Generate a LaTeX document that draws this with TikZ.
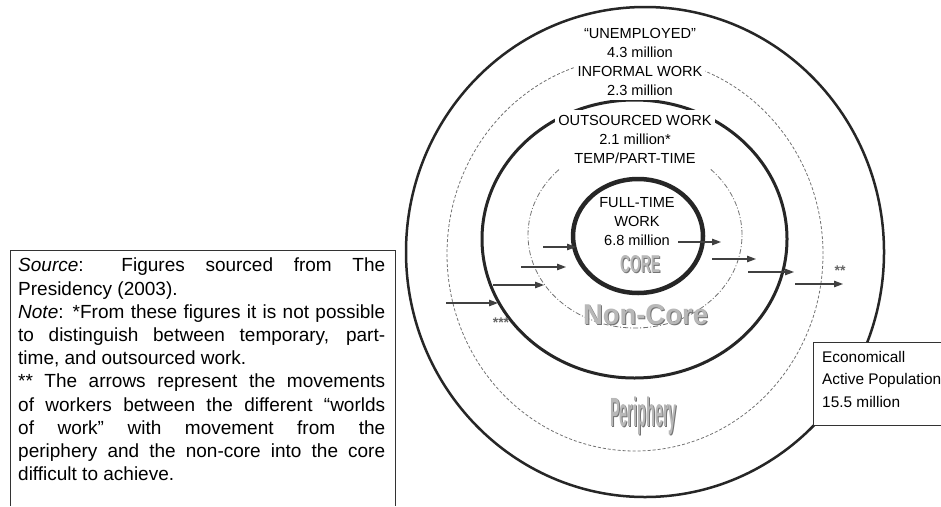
\documentclass[tikz,border=0pt]{standalone}
\usepackage{fontspec}
\setmainfont{Liberation Sans}
\usepackage{graphicx}
\usetikzlibrary{arrows.meta}
\begin{document}
\begin{tikzpicture}[x=1pt,y=-1pt,
  ring/.style={draw=black!85},
  dashring/.style={draw=black!55, line width=0.8pt, dash pattern=on 3pt off 2pt},
  dotring/.style={draw=black!55, line width=0.8pt, dash pattern=on 5pt off 2pt on 1pt off 2pt},
  flow/.style={draw=black!75, line width=1.2pt, -{Triangle[length=9pt,width=6.5pt]}},
  ringtext/.style={font=\fontsize{14.6}{19}\selectfont, align=center, text=black},
  whiteblock/.style={ringtext, fill=white, inner xsep=3pt, inner ysep=4pt},
  notetext/.style={font=\fontsize{19}{23.2}\selectfont, text width=367pt, align=justify, inner sep=0pt},
  boxtext/.style={font=\fontsize{15.4}{22.5}\selectfont, align=left, inner sep=0pt},
  boxline/.style={draw=black!80, line width=0.8pt},
  starmark/.style={font=\fontsize{14}{14}\selectfont\bfseries, text=black!60, inner sep=0pt},
  shadowlbl/.style={text=black!55, inner sep=0pt},
  facelbl/.style={text=black!28, inner sep=0pt}
]
\clip (0,0) rectangle (941,506);
\fill[white] (0,0) rectangle (941,506);

% rings
\draw[ring, line width=2.5pt] (645,252) ellipse [x radius=239pt, y radius=245pt];
\draw[dashring] (635,254) ellipse [x radius=188pt, y radius=197pt];
\draw[ring, line width=3pt] (634.5,239) ellipse [x radius=152.5pt, y radius=139pt];
\draw[dotring] (635,235) ellipse [x radius=107pt, y radius=93pt];
\draw[ring, line width=4.5pt] (638,236) ellipse [x radius=65pt, y radius=57pt];

% ring texts
\node[whiteblock, anchor=north] (unemp) at (640,24) {“UNEMPLOYED”\\4.3 million\\INFORMAL WORK\\2.3 million};
\node[whiteblock, anchor=north, inner ysep=5pt] (outs) at (635,110) {OUTSOURCED WORK\\2.1 million*\\TEMP/PART-TIME};
\node[ringtext, anchor=north, inner sep=0pt] (full) at (637,197.5) {FULL-TIME\\WORK\\6.8 million};

% zone labels
\node[shadowlbl] (coreS) at (641,265) {\resizebox{40pt}{17pt}{\bfseries CORE}};
\node[facelbl] (core) at (640,264) {\resizebox{40pt}{17pt}{\bfseries CORE}};
\node[shadowlbl] (noncoreS) at (646.5,316) {\resizebox{125pt}{20pt}{\bfseries Non-Core}};
\node[facelbl] (noncore) at (645.5,315) {\resizebox{125pt}{20pt}{\bfseries Non-Core}};
\node[shadowlbl] (periS) at (644.5,417) {\resizebox*{67pt}{38pt}{\bfseries Periphery}};
\node[facelbl] (peri) at (643.5,416) {\resizebox*{67pt}{38pt}{\bfseries Periphery}};

% arrows
\coordinate (a1s) at (543,247); \coordinate (a1e) at (576,247);
\coordinate (a2s) at (521,267); \coordinate (a2e) at (566,267);
\coordinate (a3s) at (493,285); \coordinate (a3e) at (544,285);
\coordinate (a4s) at (446,303); \coordinate (a4e) at (498,303);
\coordinate (b1s) at (678,242); \coordinate (b1e) at (721,242);
\coordinate (b2s) at (712,259); \coordinate (b2e) at (756,259);
\coordinate (b3s) at (748,272); \coordinate (b3e) at (794,272);
\coordinate (b4s) at (795,284); \coordinate (b4e) at (843,284);
\draw[flow] (a1s) -- (a1e);
\draw[flow] (a2s) -- (a2e);
\draw[flow] (a3s) -- (a3e);
\draw[flow] (a4s) -- (a4e);
\draw[flow] (b1s) -- (b1e);
\draw[flow] (b2s) -- (b2e);
\draw[flow] (b3s) -- (b3e);
\draw[flow] (b4s) -- (b4e);
\node[starmark] (three) at (501,323) {***};
\node[starmark] (two) at (840,271) {**};

% left note box
\draw[boxline] (10,506) -- (10,250) -- (395,250) -- (395,506);
\node[notetext, anchor=north west] (note) at (18,258) {\textit{Source}: Figures sourced from The\linebreak Presidency (2003).\\{}%
\textit{Note}: *From these figures it is not possible\linebreak to distinguish between temporary, part-\linebreak time, and outsourced work.\\{}%
** The arrows represent the movements\linebreak of workers between the different “worlds\linebreak of work” with movement from the\linebreak periphery and the non-core into the core\linebreak difficult to achieve.};

% right population box
\draw[boxline, fill=white] (813,342) rectangle (960,425);
\node[boxtext, anchor=north west] (pop) at (822,351) {Economicall\\Active Population\\15.5 million};
\end{tikzpicture}
\end{document}
